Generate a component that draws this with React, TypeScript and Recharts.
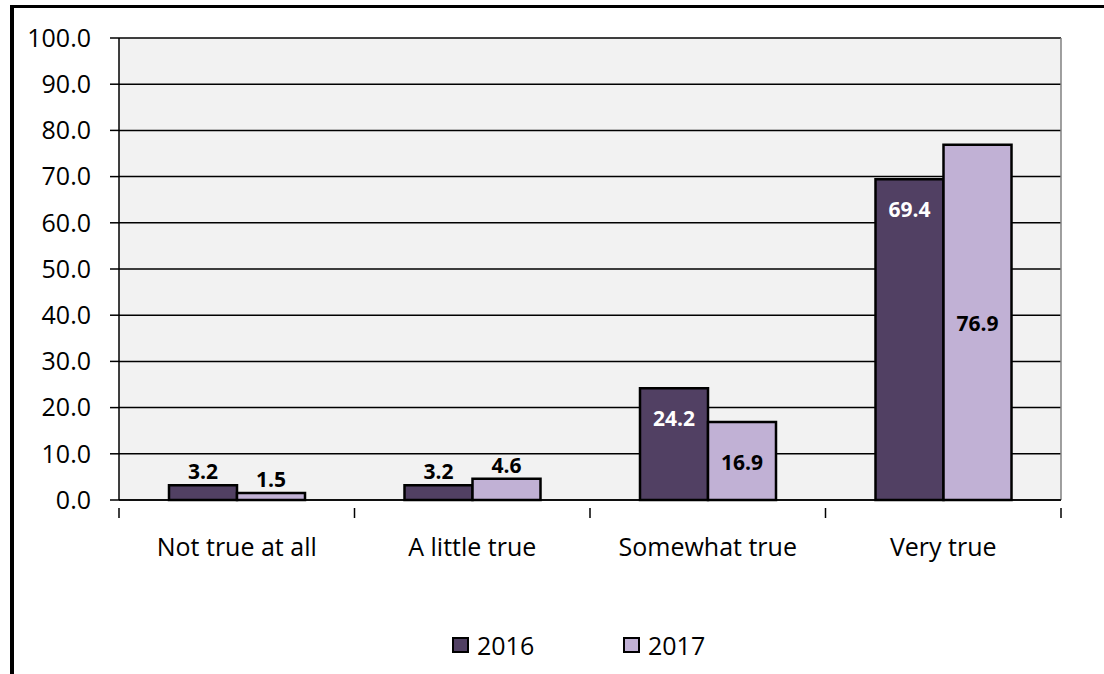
import { Bar, BarChart, CartesianGrid, LabelList, XAxis, YAxis } from "recharts";

const CATEGORIES = ["Not true at all", "A little true", "Somewhat true", "Very true"];
const VALUES_2016 = [3.2, 3.2, 24.2, 69.4];
const VALUES_2017 = [1.5, 4.6, 16.9, 76.9];
const Y_TICKS = [0, 10, 20, 30, 40, 50, 60, 70, 80, 90, 100];

const SERIES = [
  { key: "y2016", name: "2016", color: "#514063" },
  { key: "y2017", name: "2017", color: "#c1b1d5" },
];

// where Excel put each data label
const LABEL_POS_2016 = ["top", "top", "insideTop", "insideTop"];
const LABEL_POS_2017 = ["top", "top", "center", "center"];

const data = CATEGORIES.map((name, i) => ({
  name,
  y2016: VALUES_2016[i],
  y2017: VALUES_2017[i],
}));

const FONT = "'Open Sans', sans-serif";
const W = 1104;
const H = 674;
const MARGIN = { top: 38, right: 43, left: 0, bottom: 0 };
const Y_AXIS_W = 119;
const BAND = (W - Y_AXIS_W - MARGIN.right) / CATEGORIES.length;

function CategoryTick(props: any) {
  const { x, y, payload, index } = props;
  const left = x - BAND / 2;
  return (
    <g>
      <line x1={left} x2={left} y1={y} y2={y + 10} stroke="#000" strokeWidth={1.5} />
      {index === CATEGORIES.length - 1 && (
        <line x1={x + BAND / 2} x2={x + BAND / 2} y1={y} y2={y + 10} stroke="#000" strokeWidth={1.5} />
      )}
      <text x={x} y={y + 48} textAnchor="middle" fontSize={25} fontFamily={FONT} fill="#000">
        {payload.value}
      </text>
    </g>
  );
}

function makeLabel(positions: string[], insideFill: string) {
  return (props: any) => {
    const { x, y, width, height, value, index } = props;
    const pos = positions[index];
    const cx = x + width / 2;
    let ty = y - 6;
    let fill = "#000";
    if (pos === "insideTop") {
      ty = y + 38;
      fill = insideFill;
    } else if (pos === "center") {
      ty = y + height / 2 + 9;
      fill = insideFill;
    }
    return (
      <text x={cx} y={ty} textAnchor="middle" fontSize={21} fontWeight="bold" fontFamily={FONT} fill={fill}>
        {Number(value).toFixed(1)}
      </text>
    );
  };
}

export default function App() {
  return (
    <div style={{ position: "fixed", left: 0, top: 0, width: W, height: H, background: "#fff", overflow: "hidden" }}>
      <div
        style={{
          position: "absolute",
          left: 10,
          top: 5,
          width: W,
          height: H,
          borderLeft: "4px solid #000",
          borderTop: "3px solid #000",
        }}
      />
      <div style={{ position: "absolute", left: 0, top: 0 }}>
        <BarChart width={W} height={H} data={data} margin={MARGIN} barGap={0} barSize={68}>
          <CartesianGrid vertical={false} fill="#f2f2f2" stroke="#000" strokeWidth={1.5} strokeOpacity={1} />
          <CartesianGrid
            horizontal={false}
            stroke="#808080"
            strokeWidth={1.5}
            verticalCoordinatesGenerator={({ offset }: any) => [offset.left + offset.width]}
          />
          <XAxis
            dataKey="name"
            height={H - 500}
            axisLine={{ stroke: "#000", strokeWidth: 1.5 }}
            tickLine={false}
            tick={<CategoryTick />}
            interval={0}
          />
          <YAxis
            width={Y_AXIS_W}
            domain={[0, 100]}
            ticks={Y_TICKS}
            interval={0}
            tickFormatter={(v: number) => v.toFixed(1)}
            axisLine={{ stroke: "#000", strokeWidth: 1.5 }}
            tickLine={{ stroke: "#000", strokeWidth: 1.5 }}
            tickSize={9}
            tickMargin={19}
            tick={{ fontSize: 25, fontFamily: FONT, fill: "#000" }}
          />
          <Bar dataKey="y2016" name="2016" fill={SERIES[0].color} stroke="#000" strokeWidth={2.5} isAnimationActive={false}>
            <LabelList dataKey="y2016" content={makeLabel(LABEL_POS_2016, "#fff")} />
          </Bar>
          <Bar dataKey="y2017" name="2017" fill={SERIES[1].color} stroke="#000" strokeWidth={2.5} isAnimationActive={false}>
            <LabelList dataKey="y2017" content={makeLabel(LABEL_POS_2017, "#000")} />
          </Bar>
        </BarChart>
      </div>
      <div style={{ position: "absolute", left: 452, top: 628, display: "flex", fontFamily: FONT, fontSize: 25 }}>
        {SERIES.map((s) => (
          <div key={s.key} style={{ display: "flex", alignItems: "center", width: 171 }}>
            <span
              style={{
                display: "inline-block",
                width: 13,
                height: 12,
                border: "2.5px solid #000",
                background: s.color,
                marginRight: 8,
              }}
            />
            <span>{s.name}</span>
          </div>
        ))}
      </div>
    </div>
  );
}
